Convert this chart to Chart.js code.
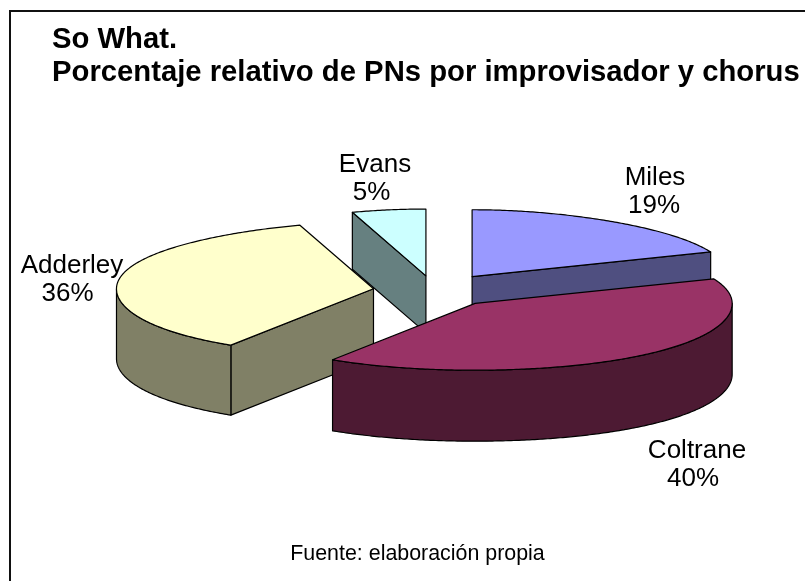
<!DOCTYPE html>
<html><head><meta charset="utf-8">
<style>html,body{margin:0;padding:0;background:#fff}#w{position:absolute;left:0;top:0;width:805px;height:581px}</style>
<script src="https://cdn.jsdelivr.net/npm/chart.js@4"></script></head>
<body><div id="w"><canvas id="c"></canvas></div>
<script>
const categories = ['Miles','Coltrane','Adderley','Evans'];
const values = [19,40,36,5];
const percentLabels = ['19%','40%','36%','5%'];
const titleLines = ['So What.','Porcentaje relativo de PNs por improvisador y chorus'];
const sourceNote = 'Fuente: elaboración propia';
const topColors = ['#9999FF','#993366','#FFFFCC','#CCFFFF'];
const wallColors = ['#4F4F80','#4D1A33','#808066','#668080'];
const explode = [66,63,62,58];
const wallDepth = [70,71,70,57];
const labelAnchors = [[655,185],[697,458],[72,273],[375,172]];
const percentShift = [-1,-4,-4.5,-3.5];
const TILT = 0.26, BACK_SHRINK = 0.09, FRONT_GROW = 0.05, RADIUS = 257, CX_SHIFT = 6.5;

function project(el, off, theta, r, depth){
  const mid = (el.startAngle + el.endAngle)/2;
  const ax = Math.cos(mid)*off, ay = Math.sin(mid)*off;
  const sy = Math.sin(theta);
  const s = sy < 0 ? 1 - BACK_SHRINK*sy*sy*sy*sy : 1 + FRONT_GROW*sy*sy;
  return [el.x + CX_SHIFT + ax + r*Math.cos(theta)*s, el.y + TILT*(ay + r*sy) + depth];
}
function arcPts(el, off, a, b, depth){
  const n = Math.max(2, Math.ceil((b-a)/0.01)), p=[];
  for(let i=0;i<=n;i++) p.push(project(el,off,a+(b-a)*i/n,el.outerRadius,depth));
  return p;
}
function poly(ctx, pts, fill){
  ctx.beginPath();
  pts.forEach((p,i)=> i?ctx.lineTo(p[0],p[1]):ctx.moveTo(p[0],p[1]));
  ctx.closePath();
  ctx.fillStyle = fill; ctx.fill();
  ctx.strokeStyle = '#000'; ctx.lineWidth = 1.2; ctx.lineJoin='round'; ctx.stroke();
}
const pie3d = {
  id:'pie3d',
  beforeDatasetDraw(chart, args){
    const ctx = chart.ctx, arcs = chart.getDatasetMeta(args.index).data;
    const order = arcs.map((_,i)=>i).sort((i,j)=>{
      const my = k => Math.sin((arcs[k].startAngle+arcs[k].endAngle)/2)*arcs[k].options.offset;
      return my(i)-my(j);
    });
    ctx.save();
    for(const i of order){
      const el = arcs[i], off = el.options.offset, a = el.startAngle, b = el.endAngle, h = wallDepth[i];
      const apex = project(el,off,0,0,0), apexLow = project(el,off,0,0,h);
      const rim = (t,d)=>project(el,off,t,el.outerRadius,d);
      if(Math.sin(a-Math.PI/2) > 1e-6) poly(ctx,[apex,rim(a,0),rim(a,h),apexLow],wallColors[i]);
      if(Math.sin(b+Math.PI/2) > 1e-6) poly(ctx,[apex,rim(b,0),rim(b,h),apexLow],wallColors[i]);
      const lo = Math.max(a,0), hi = Math.min(b,Math.PI);
      if(hi > lo){
        const top = arcPts(el,off,lo,hi,0), bot = arcPts(el,off,lo,hi,h).reverse();
        poly(ctx,top.concat(bot),wallColors[i]);
      }
      poly(ctx,[apex].concat(arcPts(el,off,a,b,0)),el.options.backgroundColor);
    }
    ctx.restore();
    return false;
  },
  afterDraw(chart){
    const ctx = chart.ctx;
    ctx.save();
    ctx.strokeStyle='#111'; ctx.lineWidth=2;
    ctx.beginPath(); ctx.moveTo(10,581); ctx.lineTo(10,11); ctx.lineTo(805,11); ctx.stroke();
    ctx.fillStyle='#000'; ctx.font='26px "Liberation Sans", Arial, sans-serif';
    ctx.textAlign='center'; ctx.textBaseline='alphabetic';
    categories.forEach((c,i)=>{
      const [x,y]=labelAnchors[i];
      ctx.fillText(c,x,y); ctx.fillText(percentLabels[i],x+percentShift[i],y+28);
    });
    ctx.font='21.4px "Liberation Sans", Arial, sans-serif';
    ctx.fillText(sourceNote,417.5,560);
    ctx.restore();
  }
};
new Chart(document.getElementById('c'),{
  type:'pie',
  data:{labels:categories,datasets:[{data:values,backgroundColor:topColors,offset:explode,radius:RADIUS,borderWidth:0}]},
  plugins:[pie3d],
  options:{
    responsive:true,maintainAspectRatio:false,animation:false,
    layout:{padding:{left:52,right:0,top:0,bottom:89}},
    plugins:{
      legend:{display:false},tooltip:{enabled:false},
      title:{display:true,text:titleLines,align:'start',color:'#000',
        font:{family:'"Liberation Sans", Arial, sans-serif',size:29.25,weight:'bold',lineHeight:1.12},
        padding:{top:24,bottom:0}}
    }
  }
});
</script></body></html>
